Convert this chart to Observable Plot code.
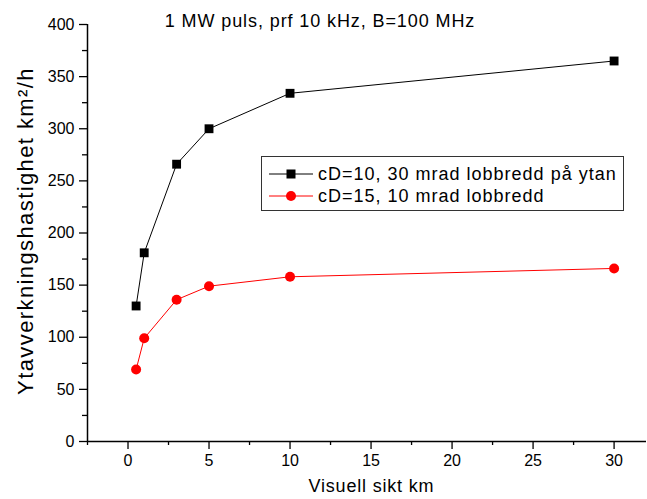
<!DOCTYPE html>
<html>
<head>
<meta charset="utf-8">
<script src="https://cdn.jsdelivr.net/npm/d3@7"></script>
<script src="https://cdn.jsdelivr.net/npm/@observablehq/plot@0.6"></script>
<style>
  body { margin: 0; background: #fff; }
  #wrap { position: relative; width: 647px; height: 499px; font-family: "Liberation Sans", Arial, sans-serif; }
  #title { position: absolute; left: 0; width: 640px; top: 11px; text-align: center; font-size: 18px; letter-spacing: 0.9px; line-height: 20px; color: #000; }
  #legend { position: absolute; left: 261px; top: 156px; width: 361px; height: 53px; border: 1px solid #333; background: #fff; font-size: 18px; letter-spacing: 1px; }
  .row { position: absolute; left: 0; height: 22px; display: flex; align-items: center; }
  .row svg { display: block; }
  .row span { margin-left: 5px; white-space: nowrap; }
  .ylab text { letter-spacing: 1.4px; }
</style>
</head>
<body>
<div id="wrap">
  <div id="chart"></div>
  <div id="title"></div>
  <div id="legend"></div>
</div>
<script>
const xValues = [0.5, 1, 3, 5, 10, 30];
const seriesBlack = [130, 181, 266, 300, 334, 365];
const seriesRed = [69, 99, 136, 149, 158, 166];
const seriesNames = ["cD=10, 30 mrad lobbredd på ytan", "cD=15, 10 mrad lobbredd"];
const xTicks = [0, 5, 10, 15, 20, 25, 30];
const xMinorTicks = [-2.5, 2.5, 7.5, 12.5, 17.5, 22.5, 27.5];
const yTicks = [0, 50, 100, 150, 200, 250, 300, 350, 400];
const yMinorTicks = [25, 75, 125, 175, 225, 275, 325, 375];
const titleText = "1 MW puls, prf 10 kHz, B=100 MHz";
const xLabel = "Visuell sikt km";
const yLabel = "Ytavverkningshastighet km²/h";

const black = xValues.map((x, i) => ({x, y: seriesBlack[i]}));
const red = xValues.map((x, i) => ({x, y: seriesRed[i]}));

const chart = Plot.plot({
  width: 647,
  height: 499,
  marginLeft: 87,
  marginRight: 1,
  marginTop: 24,
  marginBottom: 58,
  style: { fontFamily: "'Liberation Sans', Arial, sans-serif", fontSize: "16px", color: "black", background: "white" },
  x: { domain: [-2.5, 32], label: null },
  y: { domain: [0, 400], label: null },
  marks: [
    Plot.axisX({ ticks: xTicks, tickSize: 8, tickPadding: 5, label: null, stroke: "black", strokeWidth: 1.3 }),
    Plot.axisX({ ticks: xMinorTicks, tickSize: 4, tickFormat: () => "", label: null, stroke: "black", strokeWidth: 1.3 }),
    Plot.axisY({ ticks: yTicks, tickSize: 8, tickPadding: 5, label: null, stroke: "black", strokeWidth: 1.3 }),
    Plot.axisY({ ticks: yMinorTicks, tickSize: 5, tickFormat: () => "", label: null, stroke: "black", strokeWidth: 1.3 }),
    Plot.ruleY([0], { stroke: "black", strokeWidth: 1.5 }),
    Plot.ruleX([-2.5], { stroke: "black", strokeWidth: 1.5 }),
    Plot.line(black, { x: "x", y: "y", stroke: "black", strokeWidth: 1 }),
    Plot.dot(black, { x: "x", y: "y", symbol: "square", r: 5, fill: "black", stroke: "none" }),
    Plot.line(red, { x: "x", y: "y", stroke: "#ff0000", strokeWidth: 1 }),
    Plot.dot(red, { x: "x", y: "y", symbol: "circle", r: 5, fill: "#ff0000", stroke: "none" }),
    Plot.text([xLabel], { frameAnchor: "bottom", dx: 4, dy: 50, fontSize: 18, fill: "black", className: "xlab" }),
    Plot.text([yLabel], { frameAnchor: "left", textAnchor: "middle", dx: -62, dy: -2, rotate: -90, fontSize: 22, fill: "black", className: "ylab" })
  ]
});
document.getElementById("chart").appendChild(chart);
document.getElementById("title").textContent = titleText;

// stretch x-axis title to the reference's wide spacing
chart.querySelectorAll(".xlab text").forEach(t => {
  t.setAttribute("textLength", 125);
  t.setAttribute("lengthAdjust", "spacing");
});

const legend = document.getElementById("legend");
const specs = [
  { name: seriesNames[0], color: "black", shape: "square", top: 6 },
  { name: seriesNames[1], color: "#ff0000", shape: "circle", top: 28 }
];
for (const s of specs) {
  const row = document.createElement("div");
  row.className = "row";
  row.style.top = s.top + "px";
  row.style.left = "7px";
  const marker = s.shape === "square"
    ? `<rect x="17.5" y="6.5" width="9" height="9" fill="${s.color}"/>`
    : `<circle cx="22" cy="11" r="5" fill="${s.color}"/>`;
  row.innerHTML = `<svg width="44" height="22"><line x1="0" x2="44" y1="11" y2="11" stroke="${s.color}" stroke-width="1"/>${marker}</svg><span>${s.name}</span>`;
  legend.appendChild(row);
}
</script>
</body>
</html>
